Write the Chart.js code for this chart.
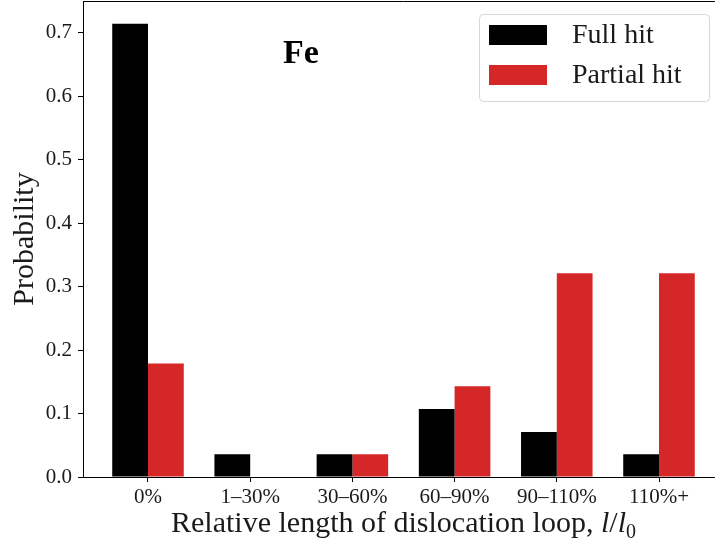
<!DOCTYPE html>
<html>
<head>
<meta charset="utf-8">
<script src="https://cdn.jsdelivr.net/npm/chart.js@4.4.1/dist/chart.umd.min.js"></script>
<style>
  html, body { margin: 0; padding: 0; overflow: hidden; background: #fff; }
  #wrap { width: 725px; height: 548px; }
</style>
</head>
<body>
<div id="wrap"><canvas id="chart"></canvas></div>
<script>
// data (28 events per series)
const categories = ['0%', '1–30%', '30–60%', '60–90%', '90–110%', '110%+'];
const fullHit = [0.714, 0.036, 0.036, 0.107, 0.071, 0.036];
const partialHit = [0.179, 0, 0.036, 0.143, 0.321, 0.321];
const yTicks = [0, 0.1, 0.2, 0.3, 0.4, 0.5, 0.6, 0.7];

const SERIF = "'Liberation Serif', 'DejaVu Serif', serif";
const TXT = '#1a1a1a';

// top spine, "Fe" tag, boxed legend and the mixed-font x label
const extras = {
    id: 'extras',
    afterDraw(chart) {
        const ctx = chart.ctx;
        const a = chart.chartArea;
        ctx.save();

        ctx.strokeStyle = '#000';
        ctx.lineWidth = 1;
        ctx.beginPath();
        ctx.moveTo(a.left, a.top + 0.5);
        ctx.lineTo(a.right, a.top + 0.5);
        ctx.stroke();

        ctx.fillStyle = '#000';
        ctx.font = 'bold 34px ' + SERIF;
        ctx.textAlign = 'left';
        ctx.textBaseline = 'alphabetic';
        ctx.fillText('Fe', a.left + 200, a.top + 62);

        // legend
        const bx = a.right - 245, by = a.top + 13, bw = 230, bh = 87;
        ctx.fillStyle = 'rgba(255,255,255,0.8)';
        ctx.strokeStyle = '#d6d6d6';
        ctx.beginPath();
        ctx.roundRect(bx + 0.5, by + 0.5, bw, bh, 4);
        ctx.fill();
        ctx.stroke();
        chart.data.datasets.forEach((ds, i) => {
            const y = by + 11 + i * 40;
            ctx.fillStyle = ds.backgroundColor;
            ctx.fillRect(bx + 10, y, 58, 20);
            ctx.fillStyle = TXT;
            ctx.font = '28px ' + SERIF;
            ctx.textBaseline = 'middle';
            ctx.fillText(ds.label, bx + 93, y + 11);
        });

        // x axis label: Relative length of dislocation loop, l/l_0
        const parts = [
            ['Relative length of dislocation loop, ', '30px ' + SERIF, 0],
            ['l', 'italic 30px ' + SERIF, 0],
            ['/', '30px ' + SERIF, 0],
            ['l', 'italic 30px ' + SERIF, 0],
            ['0', '20px ' + SERIF, 6]
        ];
        let total = 0;
        parts.forEach(p => { ctx.font = p[1]; total += ctx.measureText(p[0]).width; });
        let x = (a.left + a.right) / 2 - total / 2;
        ctx.fillStyle = TXT;
        ctx.textBaseline = 'alphabetic';
        parts.forEach(p => {
            ctx.font = p[1];
            ctx.fillText(p[0], x, 532 + p[2]);
            x += ctx.measureText(p[0]).width;
        });
        ctx.restore();
    }
};

new Chart(document.getElementById('chart'), {
    type: 'bar',
    data: {
        datasets: [{
            label: 'Full hit',
            data: fullHit.map((v, i) => ({ x: i, y: v })),
            backgroundColor: '#000000',
            borderWidth: 0
        }, {
            label: 'Partial hit',
            data: partialHit.map((v, i) => ({ x: i, y: v })),
            backgroundColor: '#d62728',
            borderWidth: 0
        }]
    },
    options: {
        responsive: true,
        maintainAspectRatio: false,
        animation: false,
        categoryPercentage: 0.7,
        barPercentage: 1.0,
        layout: { padding: { top: 1, right: 1, left: 0, bottom: 0 } },
        plugins: {
            legend: { display: false },
            tooltip: { enabled: false }
        },
        scales: {
            x: {
                type: 'linear',
                offset: false,
                min: -0.636,
                max: 5.636,
                afterBuildTicks: axis => { axis.ticks = categories.map((c, i) => ({ value: i })); },
                afterFit: axis => { axis.height = 71; axis.paddingLeft = 0; axis.paddingRight = 0; },
                ticks: {
                    callback: v => categories[v],
                    font: { family: SERIF, size: 21 },
                    color: TXT,
                    padding: 3,
                    maxRotation: 0
                },
                grid: { offset: false, drawOnChartArea: false, drawTicks: true, tickLength: 5, color: '#000' },
                border: { display: true, color: '#000', width: 1 }
            },
            y: {
                min: 0,
                max: 0.75,
                afterBuildTicks: axis => { axis.ticks = yTicks.map(v => ({ value: v })); },
                afterFit: axis => { axis.width = 83; axis.paddingTop = 0; axis.paddingBottom = 0; },
                ticks: {
                    callback: v => v.toFixed(1),
                    font: { family: SERIF, size: 21 },
                    color: TXT,
                    padding: 6
                },
                grid: { drawOnChartArea: false, drawTicks: true, tickLength: 5, color: '#000' },
                border: { display: true, color: '#000', width: 1 },
                title: {
                    display: true,
                    text: 'Probability',
                    font: { family: SERIF, size: 30 },
                    color: TXT,
                    padding: { top: 7, bottom: 0 }
                }
            }
        }
    },
    plugins: [extras]
});
</script>
</body>
</html>
